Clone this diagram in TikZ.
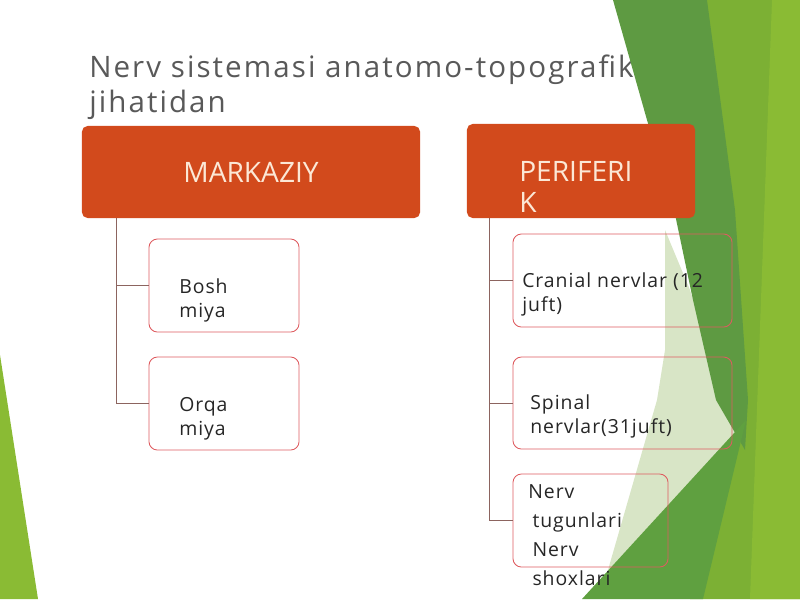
\documentclass[tikz,border=0pt]{standalone}
\usepackage{fontspec}
\setmainfont{Open Sans}
\newfontfamily\spacedfont{Open Sans}[LetterSpace=5]
\newfontfamily\titlefont{Open Sans}[LetterSpace=7]
\usetikzlibrary{positioning,calc}

\definecolor{titlegray}{RGB}{89,89,89}
\definecolor{headorange}{RGB}{210,74,28}
\definecolor{headtext}{RGB}{252,232,214}
\definecolor{boxline}{RGB}{222,92,96}
\definecolor{linkbrown}{RGB}{140,100,95}
\definecolor{lime}{RGB}{138,187,52}
\definecolor{limedark}{RGB}{124,176,52}
\definecolor{bandgreen}{RGB}{94,154,66}
\definecolor{midgreen}{RGB}{95,160,64}
\definecolor{palegreen}{RGB}{216,229,198}

\tikzset{
  headbox/.style={fill=headorange, rounded corners=4pt, text=headtext,
    font=\fontsize{20}{22}\selectfont},
  headtxt/.style={anchor=base west, inner sep=0pt, align=left, text=headtext,
    font=\fontsize{20}{22}\selectfont},
  itembox/.style={draw=boxline, line width=0.6pt, rounded corners=6pt},
  itemtext/.style={anchor=base west, inner sep=0pt, align=left, text=black!85,
    font=\spacedfont\fontsize{13.8}{17}\selectfont},
  link/.style={draw=linkbrown, line width=0.7pt},
}

\begin{document}
\begin{tikzpicture}[x=0.025cm,y=-0.025cm]
\useasboundingbox (0,0) rectangle (800,599);

% title (base = last line)
\node[anchor=base west, inner sep=0pt, align=left, text=titlegray,
  font=\titlefont\fontsize{21}{24.8}\selectfont] (title) at (89,112)
  {Nerv sistemasi anatomo-topografik\\jihatidan};

% green facets
\fill[limedark] (700,0) -- (800,0) -- (800,599) -- (690,599) -- cycle;
\fill[lime] (772,0) -- (800,0) -- (800,599) -- (750,599) -- cycle;
\fill[palegreen] (665,230) -- (690,290) -- (725,400) -- (742,440) -- (600,599)
  -- (610,563) -- (657,400) -- (665,350) -- cycle;
\fill[bandgreen] (613,0) -- (707,0) -- (735,210) -- (748,400) -- (745,450)
  -- (716,400) -- (693,300) -- (672,200) -- (647,120) -- cycle;
\fill[midgreen] (582,599) -- (746,420) -- (703,599) -- cycle;
\fill[lime] (0,355) -- (38,599) -- (0,599) -- cycle;

% heads
\node[headbox, minimum width=8.45cm, minimum height=2.3cm] (markaziy) at (251,172) {MARKAZIY};
\node[headbox, minimum width=5.7cm, minimum height=2.35cm] (periferik) at (581,171) {};
\node[headtxt] (periferiktext) at (519,212) {PERIFERI\\K};

% items
\node[itembox, minimum width=3.75cm, minimum height=2.325cm] (bosh) at (224,285.5) {};
\node[itemtext] (boshtext) at (179,317) {Bosh\\miya};
\node[itembox, minimum width=3.75cm, minimum height=2.325cm] (orqa) at (224,403.5) {};
\node[itemtext] (orqatext) at (179,435) {Orqa\\miya};
\node[itembox, minimum width=5.475cm, minimum height=2.325cm] (cranial) at (622.5,280.5) {};
\node[itemtext] (cranialtext) at (522,311) {Cranial nervlar (12\\juft)};
\node[itembox, minimum width=5.475cm, minimum height=2.3cm] (spinal) at (622.5,403) {};
\node[itemtext] (spinaltext) at (530,433) {Spinal\\nervlar(31juft)};
\node[itembox, minimum width=3.875cm, minimum height=2.325cm] (nerv) at (590.5,520.5) {};
\node[itemtext, font=\spacedfont\fontsize{13.8}{20.5}\selectfont] (nervtext) at (528,585)
  {Nerv\\\hspace*{3pt}tugunlari\\\hspace*{3pt}Nerv\\\hspace*{3pt}shoxlari};

% links
\draw[link] ($(markaziy.south west)+(35,0)$) coordinate (mtrunk) |- (orqa.west);
\draw[link] (mtrunk) |- (bosh.west);
\draw[link] ($(periferik.south west)+(23,0)$) coordinate (ptrunk) |- (nerv.west);
\draw[link] (ptrunk) |- (cranial.west);
\draw[link] (ptrunk) |- (spinal.west);
\end{tikzpicture}
\end{document}
